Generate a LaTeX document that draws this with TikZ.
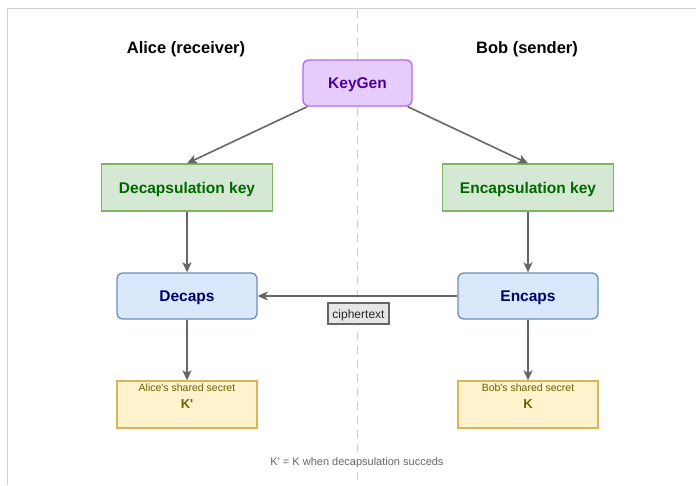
\documentclass[tikz,border=0pt]{standalone}
\usepackage{fontspec}
\setmainfont{Liberation Sans}[Ligatures=TeXOff]
\usetikzlibrary{arrows.meta}

\definecolor{framegray}{HTML}{D0D0D0}
\definecolor{dashgray}{HTML}{CCCCCC}
\definecolor{arrowgray}{HTML}{666666}
\definecolor{kgfill}{HTML}{E6CCFF}
\definecolor{kgdraw}{HTML}{B266FF}
\definecolor{kgtext}{HTML}{4C0099}
\definecolor{keyfill}{HTML}{D5E8D4}
\definecolor{keydraw}{HTML}{82B366}
\definecolor{keytext}{HTML}{006600}
\definecolor{opfill}{HTML}{DAE8FC}
\definecolor{opdraw}{HTML}{6C8EBF}
\definecolor{optext}{HTML}{000066}
\definecolor{secfill}{HTML}{FFF2CC}
\definecolor{secdraw}{HTML}{D6B656}
\definecolor{sectext}{HTML}{666600}
\definecolor{ctfill}{HTML}{E6E6E6}
\definecolor{notegray}{HTML}{666666}

\tikzset{
  boxbase/.style={draw, line width=1.3pt, inner sep=0pt, align=center,
    text height=11.5pt, text depth=0pt,
    font=\fontsize{15.5}{18}\selectfont\bfseries},
  kgbox/.style={boxbase, fill=kgfill, draw=kgdraw, text=kgtext,
    rounded corners=6pt, minimum width=109pt, minimum height=46pt},
  keybox/.style={boxbase, fill=keyfill, draw=keydraw, text=keytext,
    minimum width=171pt, minimum height=47pt},
  opbox/.style={boxbase, fill=opfill, draw=opdraw, text=optext,
    rounded corners=6pt, minimum width=140pt, minimum height=46pt},
  secbox/.style={draw=secdraw, fill=secfill, line width=1.3pt,
    minimum width=140pt, minimum height=47pt, inner sep=0pt},
  secsmall/.style={text=sectext, inner sep=0pt, text height=7.5pt, text depth=0pt,
    font=\fontsize{10.5}{12}\selectfont},
  secbig/.style={text=sectext, inner sep=0pt, text height=9pt, text depth=0pt,
    font=\fontsize{13}{15}\selectfont\bfseries},
  ctbox/.style={draw=arrowgray, fill=ctfill, line width=1.1pt, text=black!85,
    minimum width=61pt, minimum height=21pt, inner sep=0pt,
    text height=9pt, text depth=0pt, font=\fontsize{12}{14}\selectfont},
  title/.style={inner sep=0pt, text height=12pt, text depth=0pt,
    font=\fontsize{16.5}{19}\selectfont\bfseries},
  arr/.style={draw=arrowgray, line width=1.6pt,
    -{Stealth[length=10pt, width=9pt, inset=2.5pt]}},
}

\begin{document}
\begin{tikzpicture}[x=1pt, y=-1pt]
  \useasboundingbox (0,0) rectangle (696,485);
  \fill[white] (0,0) rectangle (696,485);

  % page frame and the dividing line between the two parties
  \draw[framegray, line width=1.8pt] (7.5,485) -- (7.5,8.5) -- (696,8.5);
  \draw[dashgray, line width=1pt, dash pattern=on 8pt off 6pt] (357.5,9.5) -- (357.5,485);

  % party headings
  \node[title] (alice) at (186,47.5) {Alice (receiver)};
  \node[title] (bob) at (527,47.5) {Bob (sender)};

  % boxes
  \node[kgbox] (kg) at (357.5,83) {KeyGen};
  \node[keybox] (dk) at (187,187.5) {Decapsulation key};
  \node[keybox] (ek) at (528,187.5) {Encapsulation key};
  \node[opbox] (de) at (187,296) {Decaps};
  \node[opbox] (en) at (528,296) {Encaps};
  \node[secbox] (as) at (187,404.5) {};
  \node[secbox] (bs) at (528,404.5) {};

  % shared secret contents
  \node[secsmall] (astxt) at ([yshift=-7.8pt]as.north) {Alice's shared secret};
  \node[secbig] (ak) at ([yshift=-23.8pt]as.north) {K'};
  \node[secsmall] (bstxt) at ([yshift=-7.8pt]bs.north) {Bob's shared secret};
  \node[secbig] (bk) at ([yshift=-23.8pt]bs.north) {K};

  % connectors
  \draw[arr] ([xshift=5pt]kg.south west) -- (dk.north);
  \draw[arr] ([xshift=-5pt]kg.south east) -- (ek.north);
  \draw[arr] (dk.south) -- (de.north);
  \draw[arr] (ek.south) -- (en.north);
  \draw[arr] (en.west) -- (de.east);
  \draw[arr] (de.south) -- (as.north);
  \draw[arr] (en.south) -- (bs.north);

  \node[ctbox] (ct) at (358.5,313.5) {ciphertext};

  % footnote
  \node[fill=white, text=notegray, inner sep=2pt, text height=8pt, text depth=0pt,
    font=\fontsize{11}{13}\selectfont]
    (note) at (357,461) {K' = K when decapsulation succeds};
\end{tikzpicture}
\end{document}
